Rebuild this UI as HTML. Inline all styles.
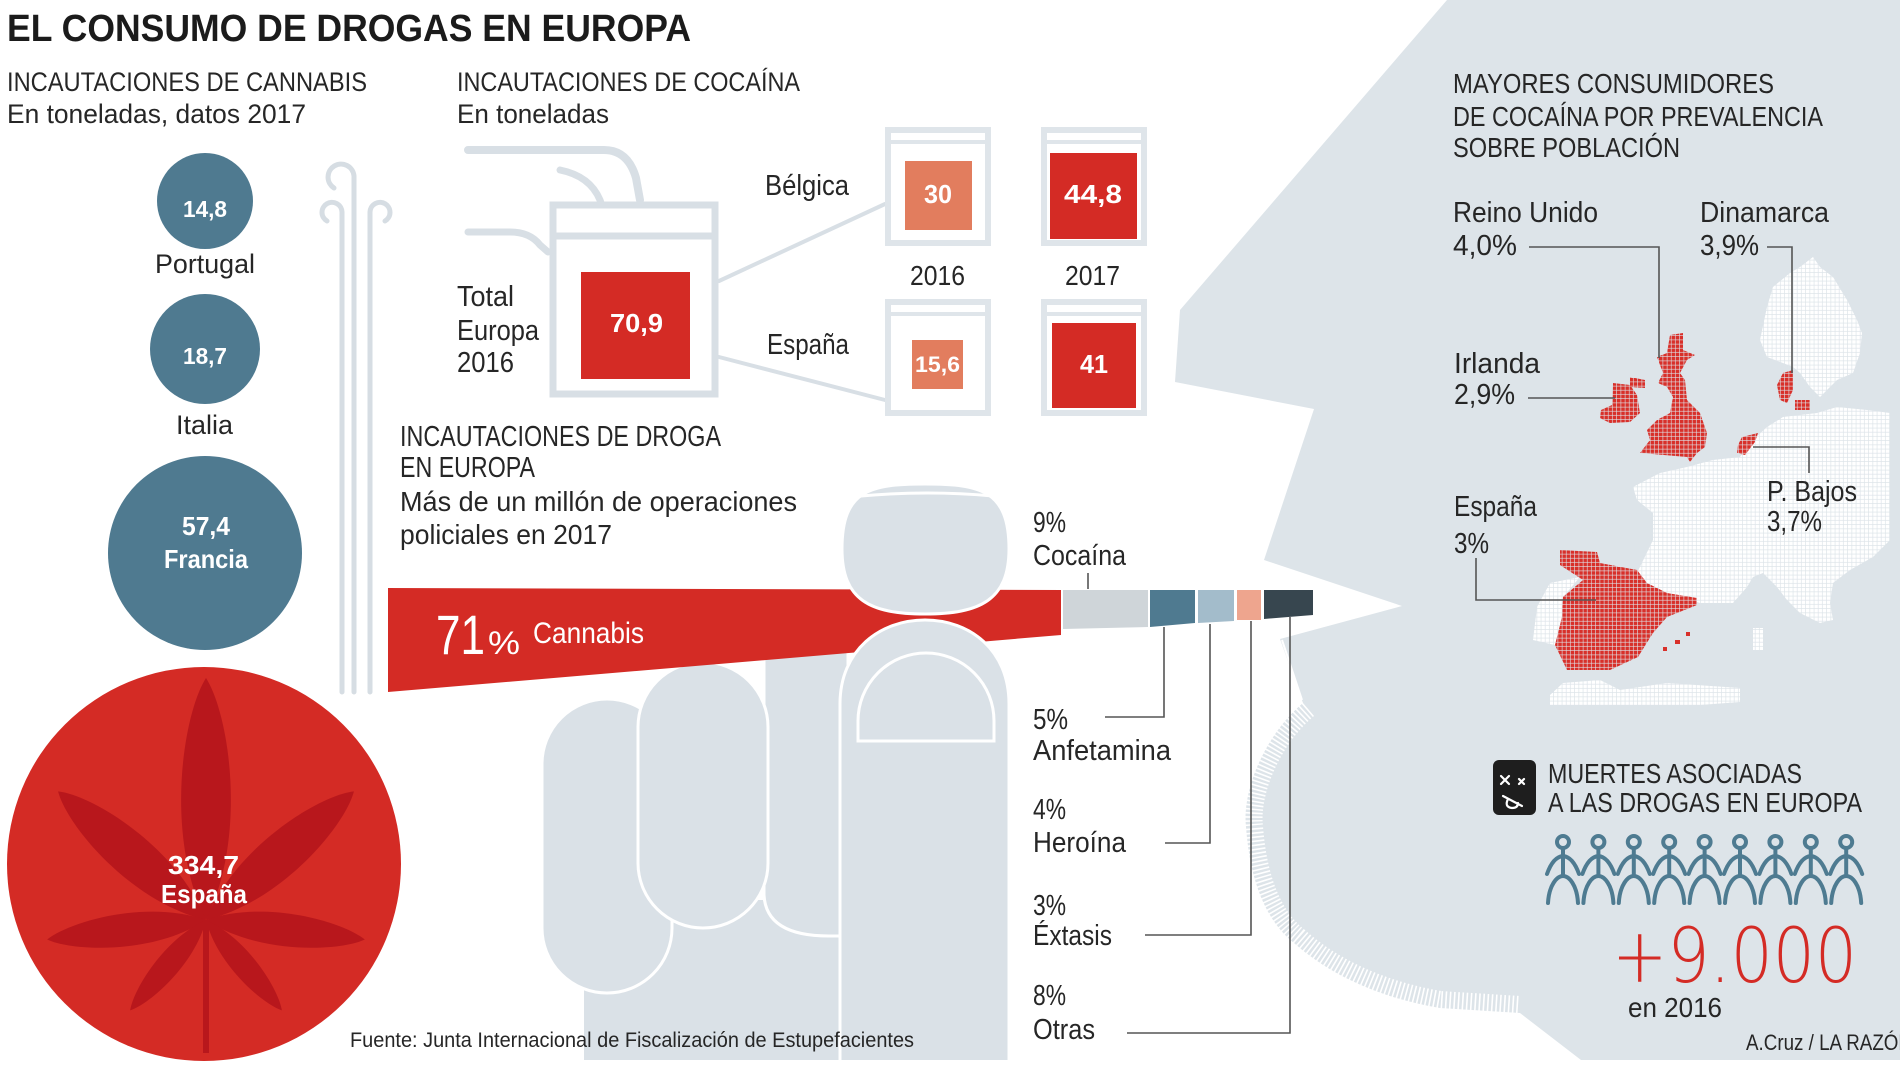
<!DOCTYPE html>
<html><head><meta charset="utf-8">
<style>
html,body{margin:0;padding:0;background:#fff;}
body{width:1900px;height:1069px;overflow:hidden;}
svg{display:block;}
text{font-family:"Liberation Sans Narrow","Liberation Sans",Arial,sans-serif;fill:#262626;}
.w{fill:#fff;font-weight:bold;}
</style></head>
<body>
<svg width="1900" height="1069" viewBox="0 0 1900 1069" xmlns="http://www.w3.org/2000/svg">
<defs>
<pattern id="pw" width="4.2" height="4.2" patternUnits="userSpaceOnUse"><rect width="3.5" height="3.5" fill="#fff"/></pattern>
<pattern id="pr" width="4.2" height="4.2" patternUnits="userSpaceOnUse"><rect width="3.6" height="3.6" fill="#d8302a"/></pattern>
</defs>
<rect width="1900" height="1069" fill="#fff"/>

<!-- big grey region -->
<path d="M1447,0 L1180,310 L1175,382 L1314,409 L1264,560 L1402,606 L1280,639 L1303,703 C1265,735 1242,790 1246,827 C1250,880 1265,920 1294,943 C1330,975 1380,998 1440,1008 L1520,1013 L1581,1060 L1900,1060 L1900,0 Z" fill="#dde4e9"/>
<path d="M1303,703 C1265,735 1242,790 1246,827 C1250,880 1265,920 1294,943 C1330,975 1380,998 1440,1008 L1520,1013" fill="none" stroke="#fff" stroke-width="34" stroke-dasharray="1.6 2.6"/>
<path d="M1282,640 L1302,700" stroke="#fff" stroke-width="2" fill="none"/>

<!-- title -->
<text x="7" y="41" font-size="38" font-weight="bold" textLength="684" lengthAdjust="spacingAndGlyphs" style="fill:#1b1b1b">EL CONSUMO DE DROGAS EN EUROPA</text>

<text x="7" y="91" font-size="27" textLength="360" lengthAdjust="spacingAndGlyphs">INCAUTACIONES DE CANNABIS</text>
<text x="7" y="123" font-size="27" textLength="299" lengthAdjust="spacingAndGlyphs">En toneladas, datos 2017</text>
<text x="457" y="91" font-size="27" textLength="343" lengthAdjust="spacingAndGlyphs">INCAUTACIONES DE COCAÍNA</text>
<text x="457" y="123" font-size="27" textLength="152" lengthAdjust="spacingAndGlyphs">En toneladas</text>

<!-- hanger lines -->
<g fill="none" stroke="#d6dde3" stroke-width="5" stroke-linecap="round">
<path d="M342,692 V212 A10,10 0 1 0 327,221"/>
<path d="M354,692 V176 A13,13 0 1 0 334,188"/>
<path d="M370,692 V212 A10,10 0 1 1 385,221"/>
</g>

<!-- cannabis circles -->
<circle cx="205" cy="201" r="48" fill="#4f7a90"/>
<text class="w" x="183" y="217" font-size="23" textLength="44" lengthAdjust="spacingAndGlyphs">14,8</text>
<text x="155" y="273" font-size="27" textLength="100" lengthAdjust="spacingAndGlyphs">Portugal</text>
<circle cx="205" cy="349" r="55" fill="#4f7a90"/>
<text class="w" x="183" y="364" font-size="23" textLength="44" lengthAdjust="spacingAndGlyphs">18,7</text>
<text x="176" y="434" font-size="27" textLength="57" lengthAdjust="spacingAndGlyphs">Italia</text>
<circle cx="205" cy="553" r="97" fill="#4f7a90"/>
<text class="w" x="182" y="535" font-size="26" textLength="48" lengthAdjust="spacingAndGlyphs">57,4</text>
<text class="w" x="164" y="568" font-size="26" textLength="84" lengthAdjust="spacingAndGlyphs">Francia</text>
<circle cx="204" cy="864" r="197" fill="#d42b25"/>
<g transform="translate(206,920)" fill="#b8171c">
<path d="M0,0 C42,-85 23,-206 0,-242 C-23,-206 -42,-85 0,0Z"/>
<path transform="rotate(-49)" d="M0,0 C36,-69 20,-167 0,-196 C-20,-167 -36,-69 0,0Z"/>
<path transform="rotate(49)" d="M0,0 C36,-69 20,-167 0,-196 C-20,-167 -36,-69 0,0Z"/>
<path transform="rotate(-97)" d="M0,0 C28,-56 15,-136 0,-160 C-15,-136 -28,-56 0,0Z"/>
<path transform="rotate(97)" d="M0,0 C28,-56 15,-136 0,-160 C-15,-136 -28,-56 0,0Z"/>
<path transform="rotate(-140)" d="M0,0 C20,-41 11,-100 0,-118 C-11,-100 -20,-41 0,0Z"/>
<path transform="rotate(140)" d="M0,0 C20,-41 11,-100 0,-118 C-11,-100 -20,-41 0,0Z"/>
<rect x="-3" y="0" width="6" height="133"/>
</g>
<text class="w" x="168" y="874" font-size="26" textLength="71" lengthAdjust="spacingAndGlyphs">334,7</text>
<text class="w" x="161" y="903" font-size="26" textLength="86" lengthAdjust="spacingAndGlyphs">España</text>

<!-- cocaine box decoration -->
<g fill="none" stroke="#d8dfe5" stroke-linecap="round">
<path stroke-width="8" d="M468,150 L604,150 Q628,150 636,178 L640,200"/>
<path stroke-width="7" d="M560,170 Q590,176 600,200 L604,212"/>
<path stroke-width="7" d="M468,232 L510,232 Q530,232 540,245 L548,252"/>
<line stroke-width="4" x1="719" y1="281" x2="885" y2="204"/>
<line stroke-width="4" x1="719" y1="357" x2="885" y2="400"/>
</g>
<rect x="553" y="205" width="162" height="189" fill="#fff" stroke="#d8dfe5" stroke-width="7"/>
<line x1="553" y1="236" x2="715" y2="236" stroke="#d8dfe5" stroke-width="7"/>
<rect x="581" y="272" width="109" height="107" fill="#d42b25"/>
<text class="w" x="610" y="332" font-size="26" textLength="53" lengthAdjust="spacingAndGlyphs">70,9</text>
<text x="457" y="306" font-size="29" textLength="57" lengthAdjust="spacingAndGlyphs">Total</text>
<text x="457" y="340" font-size="29" textLength="82" lengthAdjust="spacingAndGlyphs">Europa</text>
<text x="457" y="372" font-size="29" textLength="57" lengthAdjust="spacingAndGlyphs">2016</text>
<text x="765" y="195" font-size="29" textLength="84" lengthAdjust="spacingAndGlyphs">Bélgica</text>
<text x="767" y="354" font-size="29" textLength="82" lengthAdjust="spacingAndGlyphs">España</text>

<!-- small frames -->
<g fill="#fff" stroke="#dfe5ea" stroke-width="6">
<rect x="888" y="130" width="100" height="113"/>
<rect x="1044" y="130" width="100" height="113"/>
<rect x="888" y="302" width="100" height="111"/>
<rect x="1044" y="302" width="100" height="111"/>
</g>
<g stroke="#dfe5ea" stroke-width="4">
<line x1="888" y1="142" x2="988" y2="142"/>
<line x1="1044" y1="142" x2="1144" y2="142"/>
<line x1="888" y1="314" x2="988" y2="314"/>
<line x1="1044" y1="314" x2="1144" y2="314"/>
</g>
<rect x="905" y="161" width="67" height="69" fill="#e27d5e"/>
<rect x="1050" y="153" width="87" height="86" fill="#d42b25"/>
<rect x="912" y="340" width="51" height="49" fill="#e27d5e"/>
<rect x="1052" y="323" width="84" height="85" fill="#d42b25"/>
<text class="w" x="924" y="203" font-size="26" textLength="28" lengthAdjust="spacingAndGlyphs">30</text>
<text class="w" x="1064" y="203" font-size="26" textLength="58" lengthAdjust="spacingAndGlyphs">44,8</text>
<text class="w" x="915" y="372" font-size="22" textLength="45" lengthAdjust="spacingAndGlyphs">15,6</text>
<text class="w" x="1080" y="373" font-size="26" textLength="28" lengthAdjust="spacingAndGlyphs">41</text>
<text x="910" y="285" font-size="28" textLength="55" lengthAdjust="spacingAndGlyphs">2016</text>
<text x="1065" y="285" font-size="28" textLength="55" lengthAdjust="spacingAndGlyphs">2017</text>

<!-- drug seizures heading -->
<text x="400" y="446" font-size="29" textLength="321" lengthAdjust="spacingAndGlyphs">INCAUTACIONES DE DROGA</text>
<text x="400" y="477" font-size="29" textLength="135" lengthAdjust="spacingAndGlyphs">EN EUROPA</text>
<text x="400" y="511" font-size="28" textLength="397" lengthAdjust="spacingAndGlyphs">Más de un millón de operaciones</text>
<text x="400" y="544" font-size="28" textLength="212" lengthAdjust="spacingAndGlyphs">policiales en 2017</text>

<!-- hand -->
<g fill="#dae1e7" stroke="#fff" stroke-width="3">
<rect x="584" y="900" width="425" height="160" stroke="none"/>
<path d="M764,640 V895 Q766,936 829,936 H848 V640 Z"/>
<rect x="542" y="699" width="130" height="294" rx="65"/>
<rect x="638" y="662" width="130" height="266" rx="65"/>
</g>
<!-- joint -->
<path d="M388,588 L1061,590 L1061,635 L388,692 Z" fill="#d42b25"/>
<path d="M1063,590 L1148,590 L1148,627 L1063,629 Z" fill="#cfd5d9"/>
<path d="M1150,590 L1195,590 L1195,623 L1150,627 Z" fill="#4f7a90"/>
<path d="M1198,590 L1234,590 L1234,621 L1198,623 Z" fill="#a3bccb"/>
<path d="M1237,590 L1261,590 L1261,620 L1237,620 Z" fill="#eea58e"/>
<path d="M1264,590 L1313,590 L1313,615 L1264,619 Z" fill="#37464f"/>
<text class="w" x="436" y="654" font-size="56" textLength="49" lengthAdjust="spacingAndGlyphs" style="font-weight:normal">71</text>
<text class="w" x="488" y="654" font-size="32" textLength="32" lengthAdjust="spacingAndGlyphs" style="font-weight:normal">%</text>
<text class="w" x="533" y="643" font-size="30" textLength="111" lengthAdjust="spacingAndGlyphs" style="font-weight:normal">Cannabis</text>
<g fill="#dae1e7" stroke="#fff" stroke-width="3">
<path d="M840,1060 L840,704 C840,650 880,620 925,620 C970,620 1009,650 1009,704 L1009,1060"/>
<path d="M842,549 C842,490 870,484 925,484 C980,484 1009,490 1009,549 C1009,600 980,614 925,614 C870,614 842,600 842,549 Z"/>
</g>
<path d="M858,741 V721 A68,68 0 0 1 994,721 V741 Z" fill="none" stroke="#fff" stroke-width="3"/>
<path d="M861,496 Q928,490 993,496" fill="none" stroke="#fff" stroke-width="3"/>

<!-- drug labels -->
<g font-size="29">
<text x="1033" y="532" textLength="33" lengthAdjust="spacingAndGlyphs">9%</text>
<text x="1033" y="565" textLength="93" lengthAdjust="spacingAndGlyphs">Cocaína</text>
<text x="1033" y="729" textLength="35" lengthAdjust="spacingAndGlyphs">5%</text>
<text x="1033" y="760" textLength="138" lengthAdjust="spacingAndGlyphs">Anfetamina</text>
<text x="1033" y="819" textLength="33" lengthAdjust="spacingAndGlyphs">4%</text>
<text x="1033" y="852" textLength="93" lengthAdjust="spacingAndGlyphs">Heroína</text>
<text x="1033" y="915" textLength="33" lengthAdjust="spacingAndGlyphs">3%</text>
<text x="1033" y="945" textLength="79" lengthAdjust="spacingAndGlyphs">Éxtasis</text>
<text x="1033" y="1005" textLength="33" lengthAdjust="spacingAndGlyphs">8%</text>
<text x="1033" y="1039" textLength="62" lengthAdjust="spacingAndGlyphs">Otras</text>
</g>
<g fill="none" stroke="#555" stroke-width="1.6">
<path d="M1088,573 V589"/>
<path d="M1105,717 H1164 V627"/>
<path d="M1165,843 H1210 V624"/>
<path d="M1145,935 H1251 V621"/>
<path d="M1127,1033 H1290 V617"/>
</g>

<text x="350" y="1047" font-size="21" textLength="564" lengthAdjust="spacingAndGlyphs">Fuente: Junta Internacional de Fiscalización de Estupefacientes</text>

<!-- map -->
<g fill="url(#pw)">
<polygon points="1813,257 1820,267 1833,277 1847,300 1857,320 1862,333 1860,353 1853,373 1837,380 1820,397 1810,387 1800,373 1793,367 1783,363 1767,357 1760,340 1767,307 1773,287 1790,273 1800,267"/>
<polygon points="1633,487 1660,473 1687,467 1713,460 1740,457 1753,440 1767,427 1783,417 1817,413 1837,407 1867,410 1890,413 1890,540 1873,557 1850,570 1833,583 1830,603 1833,620 1820,623 1800,613 1787,600 1777,587 1763,573 1753,577 1747,587 1733,603 1700,603 1667,593 1647,583 1637,573 1653,540 1653,513 1637,500"/>
<polygon points="1550,583 1580,577 1563,597 1562,617 1555,645 1533,640 1537,607"/>
<polygon points="1550,695 1563,683 1600,680 1620,690 1640,687 1667,683 1740,688 1740,702 1700,705 1550,705"/>
<rect x="1753" y="628" width="10" height="22"/>
</g>
<g fill="url(#pr)">
<polygon points="1560,550 1597,552 1600,563 1637,570 1647,583 1667,593 1697,598 1697,605 1667,617 1653,633 1638,657 1610,670 1567,670 1555,645 1562,617 1563,597 1583,580 1560,565"/>
<polygon points="1670,335 1683,333 1683,350 1695,355 1687,360 1680,373 1685,380 1687,400 1700,413 1707,433 1705,447 1697,453 1690,462 1687,457 1640,453 1650,440 1647,430 1657,420 1670,413 1673,397 1667,387 1658,383 1663,373 1657,357 1667,353"/>
<polygon points="1613,383 1630,385 1637,395 1640,413 1630,422 1610,423 1600,418 1601,410 1612,405"/>
<polygon points="1630,377 1645,380 1645,388 1630,387"/>
<polygon points="1783,373 1793,370 1793,390 1787,403 1780,400 1777,385"/>
<polygon points="1795,400 1810,400 1810,410 1795,410"/>
<polygon points="1742,437 1758,433 1755,442 1745,455 1737,453 1738,445"/>
</g>
<g fill="#d8302a">
<rect x="1663" y="647" width="4" height="4"/>
<rect x="1675" y="640" width="5" height="4"/>
<rect x="1686" y="632" width="4" height="4"/>
</g>

<!-- map labels -->
<text x="1453" y="93" font-size="28" textLength="321" lengthAdjust="spacingAndGlyphs">MAYORES CONSUMIDORES</text>
<text x="1453" y="126" font-size="28" textLength="370" lengthAdjust="spacingAndGlyphs">DE COCAÍNA POR PREVALENCIA</text>
<text x="1453" y="157" font-size="28" textLength="227" lengthAdjust="spacingAndGlyphs">SOBRE POBLACIÓN</text>
<g font-size="29">
<text x="1453" y="222" textLength="145" lengthAdjust="spacingAndGlyphs">Reino Unido</text>
<text x="1453" y="255" textLength="64" lengthAdjust="spacingAndGlyphs">4,0%</text>
<text x="1700" y="222" textLength="129" lengthAdjust="spacingAndGlyphs">Dinamarca</text>
<text x="1700" y="255" textLength="59" lengthAdjust="spacingAndGlyphs">3,9%</text>
<text x="1454" y="373" textLength="86" lengthAdjust="spacingAndGlyphs">Irlanda</text>
<text x="1454" y="404" textLength="61" lengthAdjust="spacingAndGlyphs">2,9%</text>
<text x="1454" y="516" textLength="83" lengthAdjust="spacingAndGlyphs">España</text>
<text x="1454" y="553" textLength="35" lengthAdjust="spacingAndGlyphs">3%</text>
<text x="1767" y="501" textLength="90" lengthAdjust="spacingAndGlyphs">P. Bajos</text>
<text x="1767" y="531" textLength="55" lengthAdjust="spacingAndGlyphs">3,7%</text>
</g>
<g fill="none" stroke="#555" stroke-width="1.6">
<path d="M1529,247 H1659 V358"/>
<path d="M1767,247 H1792 V373"/>
<path d="M1528,398 H1615"/>
<path d="M1753,447 H1809 V473"/>
<path d="M1476,558 V600 H1596"/>
</g>

<!-- deaths -->
<rect x="1493" y="760" width="43" height="55" rx="6" fill="#1e1e1e"/>
<g stroke="#fff" stroke-width="2.2" fill="none" stroke-linecap="round">
<path d="M1501,776 L1509,784 M1509,776 L1501,784"/>
<path d="M1519,779 L1524,784 M1524,779 L1519,784"/>
<path d="M1503,796 L1522,806 M1508,799 Q1504,807 1512,808 Q1518,808 1518,803"/>
</g>
<text x="1548" y="783" font-size="28" textLength="254" lengthAdjust="spacingAndGlyphs">MUERTES ASOCIADAS</text>
<text x="1548" y="812" font-size="28" textLength="314" lengthAdjust="spacingAndGlyphs">A LAS DROGAS EN EUROPA</text>
<g fill="none" stroke="#4e7b91" stroke-width="4" stroke-linecap="round">
<g transform="translate(1563,0)"><circle cx="0" cy="842" r="6"/><path d="M0,848 V876 M-16,874 Q-10,857 0,856 Q10,857 16,874 M-15,903 C-14,885 -6,876 0,876 C6,876 14,885 15,903"/></g>
<g transform="translate(1598.4,0)"><circle cx="0" cy="842" r="6"/><path d="M0,848 V876 M-16,874 Q-10,857 0,856 Q10,857 16,874 M-15,903 C-14,885 -6,876 0,876 C6,876 14,885 15,903"/></g>
<g transform="translate(1633.8,0)"><circle cx="0" cy="842" r="6"/><path d="M0,848 V876 M-16,874 Q-10,857 0,856 Q10,857 16,874 M-15,903 C-14,885 -6,876 0,876 C6,876 14,885 15,903"/></g>
<g transform="translate(1669.2,0)"><circle cx="0" cy="842" r="6"/><path d="M0,848 V876 M-16,874 Q-10,857 0,856 Q10,857 16,874 M-15,903 C-14,885 -6,876 0,876 C6,876 14,885 15,903"/></g>
<g transform="translate(1704.6,0)"><circle cx="0" cy="842" r="6"/><path d="M0,848 V876 M-16,874 Q-10,857 0,856 Q10,857 16,874 M-15,903 C-14,885 -6,876 0,876 C6,876 14,885 15,903"/></g>
<g transform="translate(1740,0)"><circle cx="0" cy="842" r="6"/><path d="M0,848 V876 M-16,874 Q-10,857 0,856 Q10,857 16,874 M-15,903 C-14,885 -6,876 0,876 C6,876 14,885 15,903"/></g>
<g transform="translate(1775.4,0)"><circle cx="0" cy="842" r="6"/><path d="M0,848 V876 M-16,874 Q-10,857 0,856 Q10,857 16,874 M-15,903 C-14,885 -6,876 0,876 C6,876 14,885 15,903"/></g>
<g transform="translate(1810.8,0)"><circle cx="0" cy="842" r="6"/><path d="M0,848 V876 M-16,874 Q-10,857 0,856 Q10,857 16,874 M-15,903 C-14,885 -6,876 0,876 C6,876 14,885 15,903"/></g>
<g transform="translate(1846.2,0)"><circle cx="0" cy="842" r="6"/><path d="M0,848 V876 M-16,874 Q-10,857 0,856 Q10,857 16,874 M-15,903 C-14,885 -6,876 0,876 C6,876 14,885 15,903"/></g>
</g>
<text x="1612" y="982" font-size="76" textLength="245" lengthAdjust="spacingAndGlyphs" style="fill:#d42b25;font-family:'DejaVu Sans','Liberation Sans',sans-serif;font-weight:200">+9.000</text>
<text x="1628" y="1017" font-size="28" textLength="94" lengthAdjust="spacingAndGlyphs">en 2016</text>
<text x="1746" y="1050" font-size="22" textLength="166" lengthAdjust="spacingAndGlyphs">A.Cruz / LA RAZÓN</text>
</svg>
</body></html>
